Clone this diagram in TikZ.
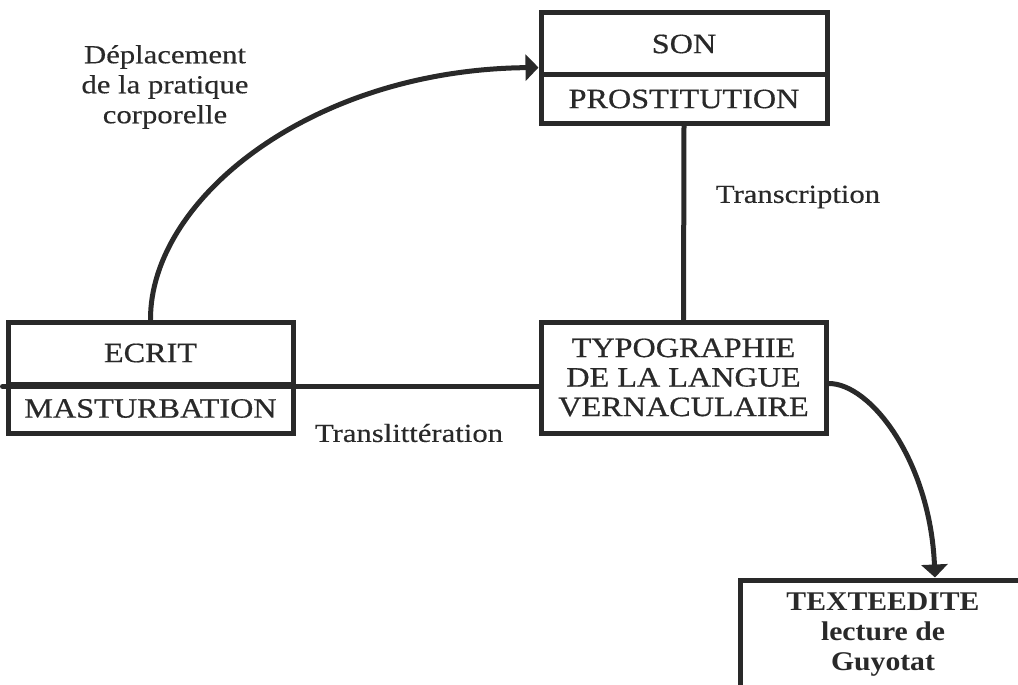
\documentclass[tikz,border=0pt]{standalone}
\usepackage{fontspec}
\setmainfont{Liberation Serif}
\newfontfamily\widefont[FakeStretch=1.15,FakeBold=0.6]{Liberation Serif}
\newfontfamily\labfont[FakeStretch=1.18,FakeBold=0.3]{Liberation Serif}
\newfontfamily\widebold[FakeStretch=1.1]{Liberation Serif Bold}
\usetikzlibrary{arrows.meta,calc}
\definecolor{ink}{gray}{0.16}
\begin{document}
\begin{tikzpicture}[x=1pt,y=-1pt,
  every node/.style={inner sep=0pt},
  boxstyle/.style={draw=ink, line width=5pt, fill=white},
  boxtext/.style={font=\widefont\fontsize{28}{29.5}\selectfont, text=ink, align=center},
  labtext/.style={font=\labfont\fontsize{26}{30}\selectfont, text=ink, align=center},
  link/.style={draw=ink, line width=5pt, line cap=round},
  arrowlink/.style={link, -{Triangle[length=13pt,width=26pt]}}]
\useasboundingbox (0,0) rectangle (1018,685);

% boxes
\node[boxstyle, minimum width=286pt, minimum height=62pt] (son) at (684,44) {};
\node[boxstyle, minimum width=286pt, minimum height=48pt] (prost) at (684,99) {};
\node[boxtext] (sont) at (son.center) {SON};
\node[boxtext] (prostt) at (prost.center) {PROSTITUTION};

\node[boxstyle, minimum width=285pt, minimum height=62pt] (ecrit) at (150.5,353) {};
\node[boxstyle, minimum width=285pt, minimum height=49pt] (mast) at (150.5,408.5) {};
\node[boxtext] (ecritt) at (ecrit.center) {ECRIT};
\node[boxtext] (mastt) at (mast.center) {MASTURBATION};

\node[boxstyle, minimum width=285pt, minimum height=111pt] (typo) at (683.5,377.5) {};
\node[boxtext] (typot) at (typo.center) {TYPOGRAPHIE\\DE LA LANGUE\\VERNACULAIRE};

\node[boxstyle, minimum width=286pt, minimum height=120pt] (texte) at (883,640) {};
\node[font=\widebold\fontsize{27}{30}\selectfont, text=ink, align=center] (textet) at (883,635) {TEXTEEDITE\\lecture de\\Guyotat};

% connectors
\coordinate (leftend) at ($(ecrit.south west)+(-3,0)$);
\draw[link] (leftend) -- (typo.west |- ecrit.south);
\draw[link] (prost.south) -- (typo.north);
\draw[arrowlink] (ecrit.north) .. controls (150,200) and (310,70) .. ([yshift=10pt]son.south west);
\draw[arrowlink] ([yshift=-6pt]typo.east) .. controls (870,383) and (930,460) .. (texte.north -| 935,0);

% labels
\node[labtext] (depl) at (165,87) {D\'eplacement\\de la pratique\\corporelle};
\node[labtext] (transc) at (798,197) {Transcription};
\node[labtext] (translit) at (409,433) {Translitt\'eration};
\end{tikzpicture}
\end{document}
